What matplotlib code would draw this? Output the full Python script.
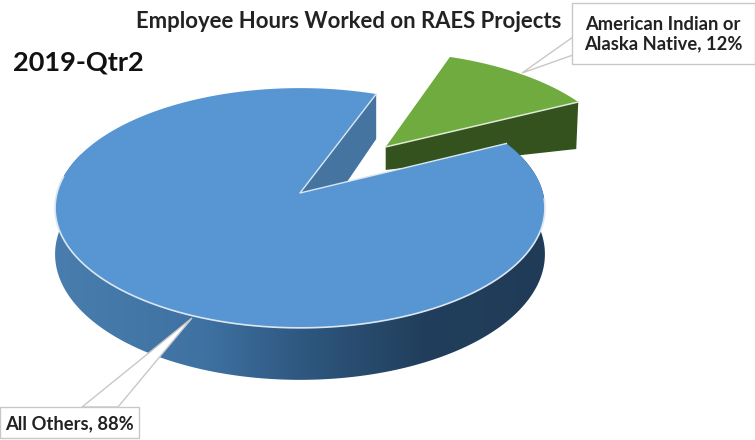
import numpy as np
import matplotlib
matplotlib.use("Agg")
import matplotlib.pyplot as plt
from matplotlib.colors import LinearSegmentedColormap
from matplotlib.patches import Polygon

plt.rcParams['font.family'] = ['Lato', 'DejaVu Sans']

# chart data
labels = ['American Indian or\nAlaska Native, 12%', 'All Others, 88%']
shares = [12, 88]
title = 'Employee Hours Worked on RAES Projects'
period = '2019-Qtr2'

# projection of the tilted pie, in pixels
cx, cy = 300, 193
a, b, k = 243, 118, 0.125
start_angle = 69.5
explode = 0.553
depth = 45.5
edge = '#dbe6f1'


def project(u, v):
    w = 1 + k * v
    return cx + a * u / w, cy - b * v / w


def rim(t0, t1, n=200, off=(0, 0)):
    t = np.radians(np.linspace(t0, t1, n))
    return project(off[0] + np.cos(t), off[1] + np.sin(t))


def lowered(x, y, d):
    # drop the points by the pie thickness, nearer points drop more
    v = (cy - y) / (b + (cy - y) * -k)
    return x, y + d / (1 + k * v)


fig = plt.figure(figsize=(7.55, 4.4), dpi=100)
ax = fig.add_axes([0, 0, 1, 1])
ax.set_xlim(0, 755)
ax.set_ylim(440, 0)
ax.axis('off')

sweep = [s / sum(shares) * 360 for s in shares]
green_end = start_angle - sweep[0]
mid = np.radians((start_angle + green_end) / 2)
off = (explode * np.cos(mid), explode * np.sin(mid))

# green slice, exploded
gx, gy = rim(start_angle, green_end, off=off)
ax0, ay0 = project(*off)
ax.add_patch(Polygon([(ax0, ay0), (gx[-1], gy[-1]), (gx[-1] - 2, gy[-1] + 47), (ax0, ay0 + 23)],
                     fc='#33521d', ec='none', zorder=2))
ax.add_patch(Polygon(np.r_[[(ax0, ay0)], np.c_[gx, gy]], fc='#6fab3f', ec='none', zorder=3))
ax.plot([ax0, gx[-1]], [ay0, gy[-1]], color='#dfe9d6', lw=1.1, zorder=3)

# inner wall of the blue slice
sx, sy = project(np.cos(np.radians(start_angle)), np.sin(np.radians(start_angle)))
ax.add_patch(Polygon([(sx, sy), (sx, sy + 45), (cx, cy + 58), (cx, cy)], fc='#44749f', ec='none', zorder=4))

# outer wall of the blue slice with the shading
wx, wy = rim(-200, 20)
lx, ly = lowered(wx, wy, depth)
wall = Polygon(np.r_[np.c_[wx, wy], np.c_[lx, ly][::-1]], fc='none', ec='none', zorder=4)
ax.add_patch(wall)
shade = LinearSegmentedColormap.from_list('shade', [(0, '#487dae'), (0.3, '#3f72a3'), (0.5, '#2f5880'),
                                                   (0.75, '#213f5c'), (1, '#203b57')])
im = ax.imshow(np.linspace(0, 1, 256)[None, :], cmap=shade, extent=(55, 545, 440, 0), aspect='auto', zorder=4)
im.set_clip_path(wall)
ax.set_xlim(0, 755)
ax.set_ylim(440, 0)

# top of the blue slice, the light edge shows on the near rim and the cut only
tx, ty = rim(green_end, start_angle - 360, n=600)
ax.add_patch(Polygon(np.r_[[(cx, cy)], np.c_[tx, ty]], fc='#5796d2', ec='none', zorder=5))
nx, ny = rim(-3, -188)
ax.plot(nx, ny, color=edge, lw=1.2, zorder=5)
ax.plot([sx, cx, tx[0]], [sy, cy, ty[0]], color=edge, lw=1.0, zorder=5)

# title and period
ax.text(349, 22, title, fontsize=15.9, fontweight='bold', color='#222222', ha='center', va='center', zorder=8)
ax.text(13, 62, period, fontsize=19.5, fontweight='bold', color='#111111', ha='left', va='center', zorder=8)

# callouts
ax.add_patch(Polygon([(573, 37), (522, 73), (573, 55)], fc='white', ec='#c8c8c8', lw=1, zorder=6))
ax.add_patch(Polygon([(82, 407), (192, 318), (118, 407)], fc='white', ec='#c8c8c8', lw=1, zorder=6))
ax.add_patch(Polygon([(572, 3), (755, 3), (755, 64), (572, 64)], fc='white', ec='#c8c8c8', lw=1, zorder=7))
ax.text(663, 34, labels[0], fontsize=13.2, fontweight='bold', color='#222222', ha='center', va='center',
        linespacing=1.2, zorder=8)
ax.add_patch(Polygon([(0, 407), (139, 407), (139, 438), (0, 438)], fc='white', ec='#c8c8c8', lw=1, zorder=7))
ax.text(5, 424, labels[1], fontsize=13.2, fontweight='bold', color='#222222', ha='left', va='center', zorder=8)

fig.savefig('out.png', dpi=100)
